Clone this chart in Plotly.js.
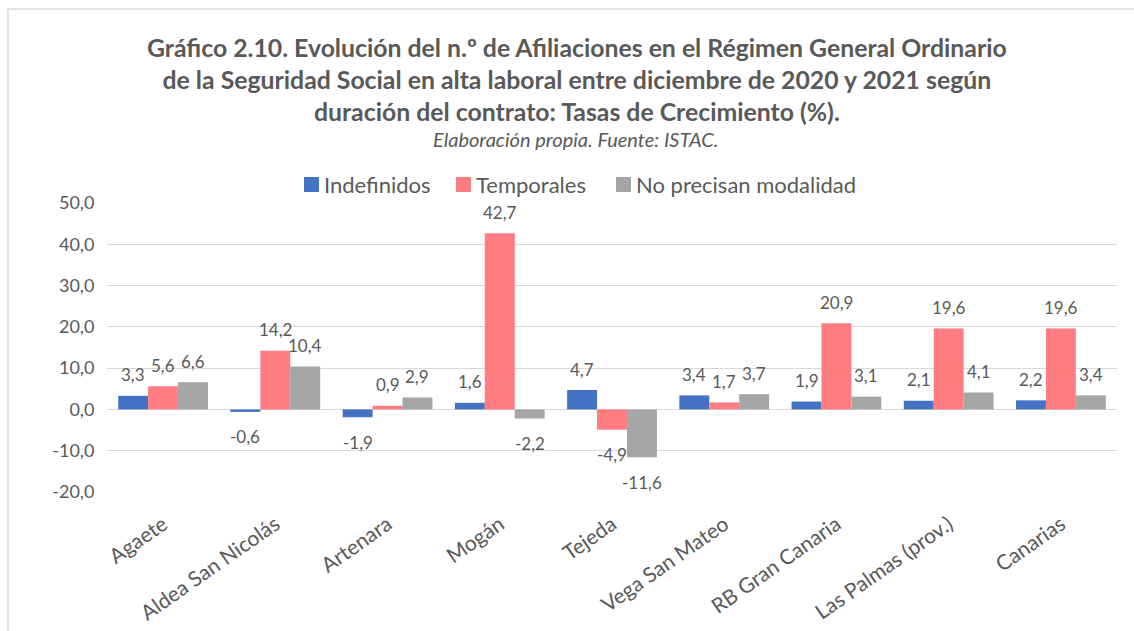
<!DOCTYPE html>
<html>
<head>
<meta charset="utf-8">
<script src="https://cdn.plot.ly/plotly-3.0.1.min.js"></script>
<style>html,body{margin:0;padding:0;background:#fff;}#chart{width:1134px;height:631px;}</style>
</head>
<body>
<div id="chart"></div>
<script>
const categories = ["Agaete", "Aldea San Nicolás", "Artenara", "Mogán", "Tejeda", "Vega San Mateo", "RB Gran Canaria", "Las Palmas (prov.)", "Canarias"];
const indefinidos = [3.3, -0.6, -1.9, 1.6, 4.7, 3.4, 1.9, 2.1, 2.2];
const temporales = [5.6, 14.2, 0.9, 42.7, -4.9, 1.7, 20.9, 19.6, 19.6];
const noPrecisan = [6.6, 10.4, 2.9, -2.2, -11.6, 3.7, 3.1, 4.1, 3.4];
const seriesNames = ["Indefinidos", "Temporales", "No precisan modalidad"];
const tickValues = [-20, -10, 0, 10, 20, 30, 40, 50];
const tickLabels = ["-20,0", "-10,0", "0,0", "10,0", "20,0", "30,0", "40,0", "50,0"];
const titleText = "<b>Gráfico 2.10. Evolución del n.º de Afiliaciones en el Régimen General Ordinario<br>de la Seguridad Social en alta laboral entre diciembre de 2020 y 2021 según<br>duración del contrato: Tasas de Crecimiento (%).</b>";
const subtitleText = "<i>Elaboración propia. Fuente: ISTAC.</i>";

const colors = ["#4472C4", "#FF7C80", "#A5A5A5"];
const series = [indefinidos, temporales, noPrecisan];
const txt = "#595959";
const font = "Lato, 'Open Sans', sans-serif";

const W = 1134, H = 631;
const margin = {l: 107, r: 17, t: 203, b: 139};
const plotW = W - margin.l - margin.r;
const plotH = H - margin.t - margin.b;
const bargap = 0.2;
const barW = plotW / categories.length * (1 - bargap) / 3;
const px = x => (x - margin.l) / plotW;          // pixel -> paper x
const py = y => (H - margin.b - y) / plotH;      // pixel -> paper y

const traces = series.map((vals, i) => ({
  type: "bar",
  name: seriesNames[i],
  x: categories,
  y: vals,
  marker: {color: colors[i], line: {width: 0}},
  hoverinfo: "skip",
  showlegend: false
}));

const fmt = v => v.toFixed(1).replace(".", ",");
const annotations = [];
const shapes = [];
series.forEach((vals, i) => {
  vals.forEach((v, j) => {
    annotations.push({
      x: categories[j], y: v, xref: "x", yref: "y",
      text: fmt(v), showarrow: false,
      xshift: (i - 1) * barW,
      yshift: v >= 0 ? 21 : -25,
      font: {family: font, size: 17, color: txt}
    });
  });
});
// title & subtitle
annotations.push({
  text: titleText, xref: "paper", yref: "paper",
  x: px(577), y: py(79), xanchor: "center", yanchor: "middle", showarrow: false,
  font: {family: font, size: 24.8, color: txt}
});
annotations.push({
  text: subtitleText, xref: "paper", yref: "paper",
  x: px(575), y: py(139), xanchor: "center", yanchor: "middle", showarrow: false,
  font: {family: font, size: 20, color: txt}
});
// custom legend
const legendSwatchX = [304, 456, 616];
seriesNames.forEach((name, i) => {
  const sx = legendSwatchX[i];
  shapes.push({
    type: "rect", xref: "paper", yref: "paper",
    x0: px(sx), x1: px(sx + 15), y0: py(192), y1: py(177),
    line: {width: 0}, fillcolor: colors[i]
  });
  annotations.push({
    text: name, xref: "paper", yref: "paper",
    x: px(sx + 18), y: py(185), xanchor: "left", yanchor: "middle", showarrow: false,
    font: {family: font, size: 22, color: txt}
  });
});
// outer frame
shapes.push({
  type: "rect", xref: "paper", yref: "paper",
  x0: px(8), x1: px(W + 20), y0: py(H + 20), y1: py(9),
  line: {color: "#D9D9D9", width: 1.5}, fillcolor: "rgba(0,0,0,0)", layer: "below"
});

const layout = {
  width: W, height: H,
  margin: margin,
  paper_bgcolor: "#fff", plot_bgcolor: "#fff",
  barmode: "group",
  bargap: bargap, bargroupgap: 0,
  font: {family: font, color: txt},
  showlegend: false,
  xaxis: {
    type: "category",
    tickangle: -35,
    tickfont: {family: font, size: 21, color: txt},
    showgrid: false, showline: false,
    ticks: "outside", ticklen: 11, tickcolor: "rgba(0,0,0,0)"
  },
  yaxis: {
    range: [-20, 50],
    tickvals: tickValues,
    ticktext: tickLabels,
    tickfont: {family: font, size: 18, color: txt},
    showgrid: true, gridcolor: "#D9D9D9", gridwidth: 1,
    zeroline: true, zerolinecolor: "#D9D9D9", zerolinewidth: 1,
    showline: false,
    ticks: "outside", ticklen: 8, tickcolor: "rgba(0,0,0,0)"
  },
  annotations: annotations,
  shapes: shapes
};

Plotly.newPlot("chart", traces, layout, {staticPlot: true, displayModeBar: false});
</script>
</body>
</html>
